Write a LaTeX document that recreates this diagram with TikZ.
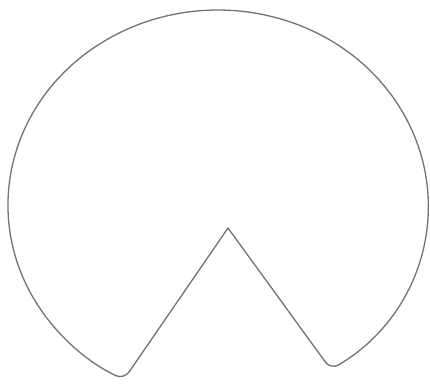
\documentclass[tikz,border=0pt]{standalone}
\usetikzlibrary{calc}
\begin{document}
\begin{tikzpicture}[x=1pt,y=1pt,
  outline/.style={draw=black!55,line width=1.3pt,line join=round}]
\useasboundingbox (0,0) rectangle (430,383);
\fill[white] (0,0) rectangle (430,383);
\coordinate (apex) at (228,155);
\coordinate (R) at (330.8,13.5);
\coordinate (L) at (124.0,3.6);
\coordinate (M) at ($(apex)!0.5!(L)$);
\draw[outline] (apex) [rounded corners=9pt] -- (R)
  arc[start angle=-57.5,end angle=243.4,x radius=210,y radius=195]
  -- (M) [sharp corners] -- cycle;
\end{tikzpicture}
\end{document}
